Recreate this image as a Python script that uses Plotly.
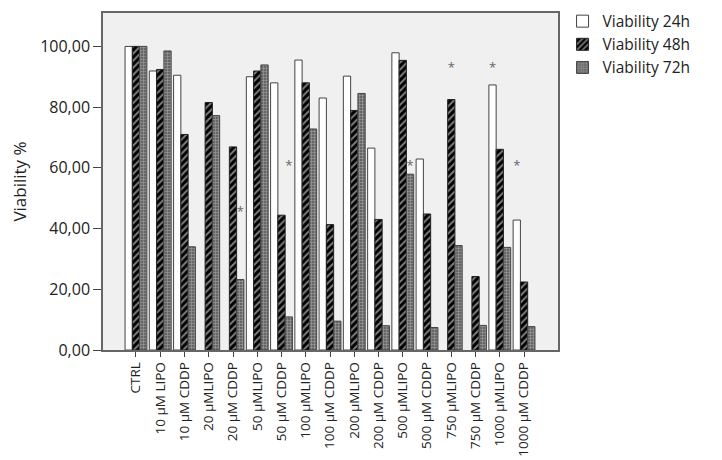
import plotly.graph_objects as go

categories = ["CTRL", "10 µM LIPO", "10 µM CDDP", "20 µMLIPO", "20 µM CDDP",
              "50 µMLIPO", "50 µM CDDP", "100 µMLIPO", "100 µM CDDP",
              "200 µMLIPO", "200 µM CDDP", "500 µMLIPO", "500 µM CDDP",
              "750 µMLIPO", "750 µM CDDP", "1000 µMLIPO", "1000 µM CDDP"]

via_24h = [100, 91.9, 90.5, None, None, 90.0, 88.0, 95.5, 83.0,
           90.2, 66.5, 97.9, 62.9, None, None, 87.3, 42.8]
via_48h = [100, 92.4, 71.0, 81.5, 66.9, 91.9, 44.4, 88.0, 41.3,
           78.9, 43.0, 95.4, 44.8, 82.5, 24.2, 66.1, 22.4]
via_72h = [100, 98.5, 34.0, 77.2, 23.2, 93.9, 10.9, 72.8, 9.5,
           84.5, 8.0, 57.9, 7.4, 34.4, 8.1, 33.8, 7.7]

# significance stars: category index, series index (0=24h,1=48h,2=72h), height
star_cat = [4, 6, 11, 13, 15, 16]
star_ser = [2, 2, 2, 1, 0, 0]
star_y = [45.2, 60.5, 60.5, 92.6, 92.6, 60.5]

yticks = [0, 20, 40, 60, 80, 100]
ytick_text = ["0,00", "20,00", "40,00", "60,00", "80,00", "100,00"]

FONT = "Open Sans"
idx = list(range(len(categories)))
bw = 0.3

fig = go.Figure()
fig.add_trace(go.Bar(x=idx, y=via_24h, name="Viability 24h", width=bw,
                     offset=-1.5 * bw,
                     marker=dict(color="white", line=dict(color="#444", width=1))))
fig.add_trace(go.Bar(x=idx, y=via_48h, name="Viability 48h", width=bw,
                     offset=-0.5 * bw,
                     marker=dict(color="black", line=dict(color="#222", width=1),
                                 pattern=dict(shape="/", bgcolor="black", fgcolor="white",
                                              size=5, solidity=0.4))))
fig.add_trace(go.Bar(x=idx, y=via_72h, name="Viability 72h", width=bw,
                     offset=0.5 * bw,
                     marker=dict(color="#666", line=dict(color="#444", width=1),
                                 pattern=dict(shape="+", bgcolor="#666", fgcolor="#e8e8e8",
                                              size=3, solidity=0.3))))

star_x = [c + (s - 1) * bw for c, s in zip(star_cat, star_ser)]
fig.add_trace(go.Scatter(x=star_x, y=star_y, mode="text", text=["*"] * len(star_x),
                         textfont=dict(family=FONT, size=13, color="#666"),
                         showlegend=False, hoverinfo="skip"))

fig.update_layout(
    width=722, height=460,
    margin=dict(l=95, r=172, t=5, b=118, autoexpand=False),
    paper_bgcolor="white", plot_bgcolor="#f0f0f0",
    font=dict(family=FONT, color="#222"),
    barmode="overlay",
    legend=dict(x=1.01, y=1.025, xanchor="left", yanchor="top",
                bgcolor="rgba(0,0,0,0)",
                font=dict(size=15.5), itemwidth=30, tracegroupgap=0),
    showlegend=True,
)
fig.update_xaxes(range=[-1.36, 17.4], tickmode="array", tickvals=idx,
                 ticktext=categories, tickangle=-90, tickfont=dict(size=13.5),
                 ticks="outside", ticklen=5, tickcolor="#444",
                 showline=True, linecolor="#666", linewidth=1.5, mirror=True,
                 showgrid=False, zeroline=False, automargin=False)
fig.update_yaxes(range=[0, 111], tickmode="array", tickvals=yticks,
                 ticktext=ytick_text, tickfont=dict(size=16),
                 ticks="outside", ticklen=8, tickcolor="#444",
                 showline=True, linecolor="#666", linewidth=1.5, mirror=True,
                 showgrid=False, zeroline=False, automargin=False,
                 title=dict(text="Viability %", font=dict(size=17), standoff=14))

fig.write_html("out.html")
